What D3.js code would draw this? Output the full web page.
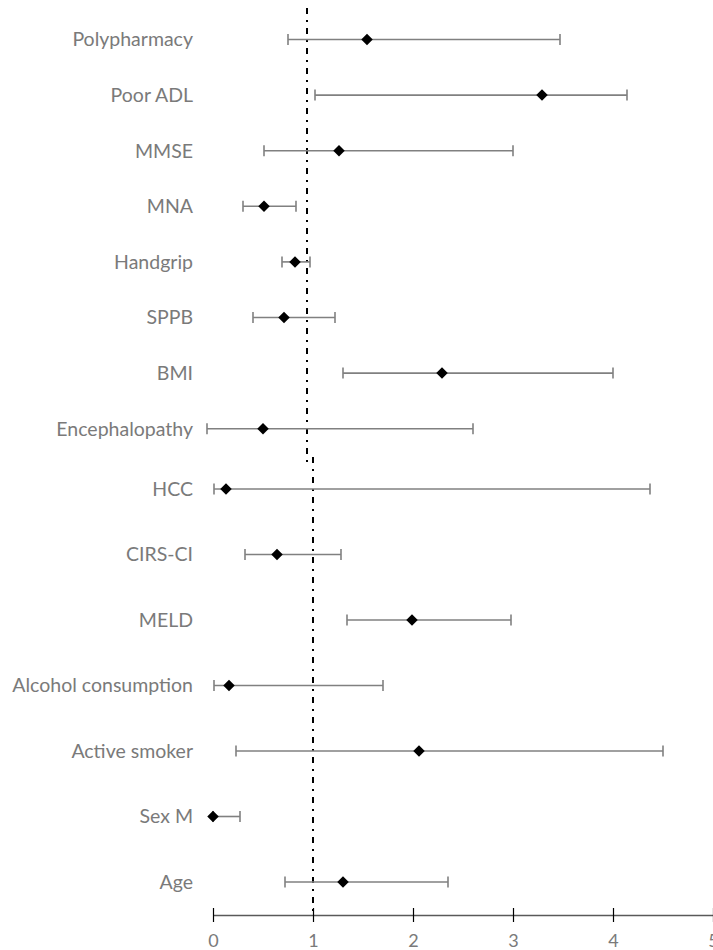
<!DOCTYPE html>
<html>
<head>
<meta charset="utf-8">
<script src="https://cdn.jsdelivr.net/npm/d3@7"></script>
<style>
  html, body { margin: 0; padding: 0; background: #ffffff; }
  svg { display: block; }
</style>
</head>
<body>
<svg id="chart" width="713" height="950"></svg>
<script>
// Upper block of predictors
const topCategories = ["Polypharmacy", "Poor ADL", "MMSE", "MNA", "Handgrip", "SPPB", "BMI", "Encephalopathy"];
const topEstimate = [1.60, 3.35, 1.32, 0.57, 0.88, 0.77, 2.35, 0.56];
const topLower    = [0.81, 1.08, 0.57, 0.36, 0.75, 0.46, 1.36, 0.00];
const topUpper    = [3.53, 4.20, 3.06, 0.89, 1.03, 1.28, 4.06, 2.66];

// Lower block of predictors
const bottomCategories = ["HCC", "CIRS-CI", "MELD", "Alcohol consumption", "Active smoker", "Sex M", "Age"];
const bottomEstimate = [0.13, 0.64, 1.99, 0.16, 2.06, 0.00, 1.30];
const bottomLower    = [0.01, 0.32, 1.34, 0.01, 0.23, 0.00, 0.72];
const bottomUpper    = [4.37, 1.28, 2.98, 1.70, 4.50, 0.27, 2.35];

const tickValues = [0, 1, 2, 3, 4, 5];
const referenceValue = 1;

const FONT = "Lato, 'Open Sans', sans-serif";
const textColor = "#7a7a7a";
const barColor = "#808080";

const svg = d3.select("#chart");

function drawBlock(cats, est, lo, hi, x, yRange, refExtent) {
  const y = d3.scalePoint().domain(cats).range(yRange);
  const g = svg.append("g");

  // reference line (dash-dot)
  g.append("line")
    .attr("x1", x(referenceValue)).attr("x2", x(referenceValue))
    .attr("y1", refExtent[0]).attr("y2", refExtent[1])
    .attr("stroke", "#000").attr("stroke-width", 2)
    .attr("stroke-dasharray", "6,6,2,6");

  const rows = cats.map((c, i) => ({ c, est: est[i], lo: lo[i], hi: hi[i] }));
  const row = g.selectAll("g.row").data(rows).join("g").attr("class", "row");

  // confidence interval
  row.append("line")
    .attr("x1", d => x(d.lo)).attr("x2", d => x(d.hi))
    .attr("y1", d => y(d.c)).attr("y2", d => y(d.c))
    .attr("stroke", barColor).attr("stroke-width", 1.6);
  row.selectAll("line.cap").data(d => [[d.lo, d.c], [d.hi, d.c]]).join("line")
    .attr("class", "cap")
    .attr("x1", d => x(d[0])).attr("x2", d => x(d[0]))
    .attr("y1", d => y(d[1]) - 5.5).attr("y2", d => y(d[1]) + 5.5)
    .attr("stroke", barColor).attr("stroke-width", 1.6);

  // point estimate
  row.append("path")
    .attr("d", d3.symbol().type(d3.symbolDiamond2).size(85))
    .attr("transform", d => `translate(${x(d.est)},${y(d.c)})`)
    .attr("fill", "#000");

  // category label
  row.append("text")
    .attr("x", 193).attr("y", d => y(d.c))
    .attr("dy", "0.35em")
    .attr("text-anchor", "end")
    .attr("font-family", FONT).attr("font-size", 19.5)
    .attr("fill", textColor)
    .text(d => d.c);
}

const xTop = d3.scaleLinear().domain([0, 5]).range([207, 707]);
const xBottom = d3.scaleLinear().domain([0, 5]).range([213, 713]);

drawBlock(topCategories, topEstimate, topLower, topUpper, xTop, [39.5, 428.7], [8, 462]);
drawBlock(bottomCategories, bottomEstimate, bottomLower, bottomUpper, xBottom, [489, 882], [457, 915]);

// x axis
const axis = svg.append("g")
  .attr("transform", "translate(0,915)")
  .call(d3.axisBottom(xBottom).tickValues(tickValues).tickFormat(d3.format("d")).tickSizeOuter(0));
axis.select(".domain").attr("stroke", "#595959").attr("stroke-width", 1.6);
axis.selectAll(".tick line").attr("y1", -7).attr("y2", 7).attr("stroke", "#000").attr("stroke-width", 1.2);
axis.selectAll(".tick text")
  .attr("y", 26).attr("dy", "0.35em")
  .attr("font-family", FONT).attr("font-size", 18)
  .attr("fill", textColor);
</script>
</body>
</html>
